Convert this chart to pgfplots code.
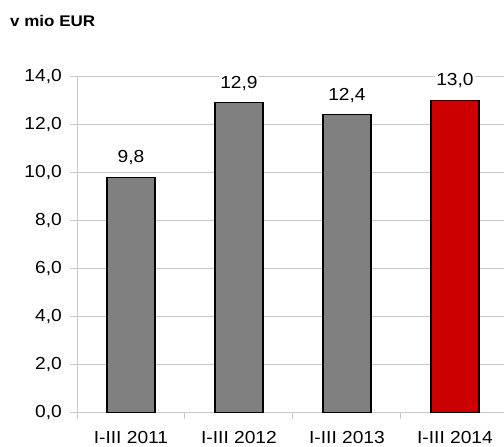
\documentclass[border=0pt]{standalone}
\usepackage{fontspec}
\setmainfont{Liberation Sans}[FakeStretch=1.1]
\usepackage{pgfplots}
\pgfplotsset{compat=1.18}
\definecolor{gridgray}{RGB}{200,200,200}
\definecolor{bargray}{RGB}{128,128,128}
\definecolor{barred}{RGB}{204,0,0}
\begin{document}
\begin{tikzpicture}
\path[use as bounding box] (0,0) rectangle (504bp,447bp);
\node[anchor=base west, inner sep=0pt, font=\bfseries\fontsize{15.5}{17}\selectfont] at (10bp,420bp) {v mio EUR};
\begin{axis}[
  at={(77bp,34.3bp)}, anchor=south west,
  scale only axis, width=427bp, height=336.4bp,
  xmin=-0.5, xmax=3.454, ymin=0, ymax=14,
  axis x line*=bottom, axis y line*=left,
  axis line style={gridgray, line width=1bp},
  ytick={0,2,...,14},
  ymajorgrids, major grid style={gridgray, line width=1bp},
  xtick={0,1,2,3},
  xticklabels={I-III 2011,I-III 2012,I-III 2013,I-III 2014},
  minor xtick={-0.5,0.5,1.5,2.5},
  tick align=outside,
  major tick length=7bp, minor tick length=6bp,
  major x tick style={draw=none},
  minor x tick style={gridgray, line width=1bp},
  major y tick style={gridgray, line width=1bp},
  tick label style={font=\fontsize{17.5}{19}\selectfont, inner sep=0pt},
  y tick label style={anchor=east, xshift=-8bp},
  x tick label style={anchor=base, yshift=-23.5bp},
  /pgf/number format/.cd, use comma, fixed, fixed zerofill, precision=1, assume math mode=true,
  /pgfplots/.cd,
  ybar, bar width=48bp, bar shift=0pt,
  nodes near coords,
  every node near coord/.append style={font=\fontsize{17.5}{19}\selectfont, anchor=base, yshift=14.5bp, fill=white, inner sep=1bp, text=black},
]
\addplot[fill=bargray, draw=black, line width=1.2bp] coordinates {(0,9.8) (1,12.9) (2,12.4)};
\addplot[fill=barred, draw=black, line width=1.2bp] coordinates {(3,13.0)};
\end{axis}
\end{tikzpicture}
\end{document}
